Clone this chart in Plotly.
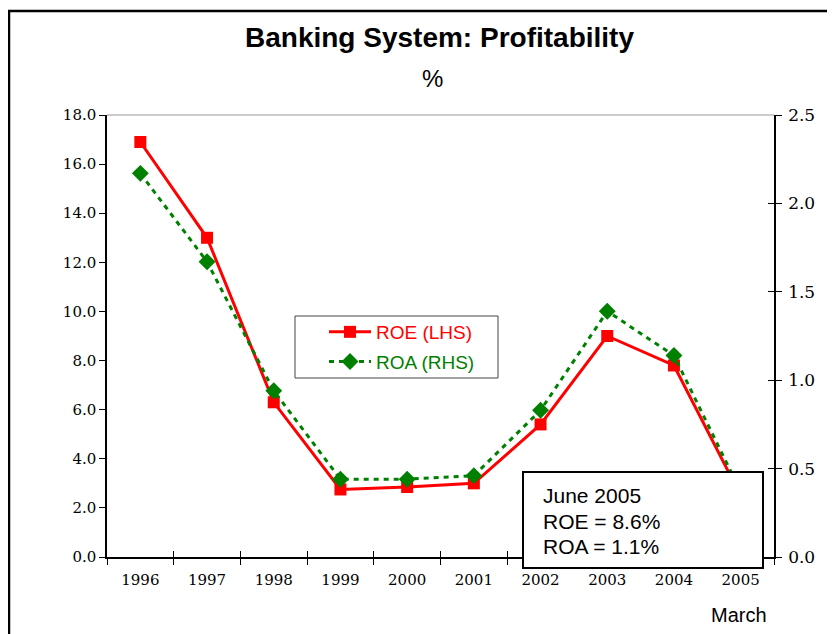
import plotly.graph_objects as go

years = ["1996", "1997", "1998", "1999", "2000", "2001", "2002", "2003", "2004", "2005"]
roe = [16.9, 13.0, 6.3, 2.75, 2.85, 3.0, 5.4, 9.0, 7.8, 2.5]
roa = [2.17, 1.67, 0.94, 0.44, 0.44, 0.46, 0.83, 1.39, 1.14, 0.37]
left_ticks = [0, 2, 4, 6, 8, 10, 12, 14, 16, 18]
right_ticks = [0, 0.5, 1.0, 1.5, 2.0, 2.5]

OFF = 8  # page body margin
W, H = 835 - OFF, 634 - OFF
# plot area in screen coords: x 107..774, y 115..557
L, T = 107 - OFF, 115 - OFF
R = W - (774 - OFF)
B = H - (557 - OFF)
pw, ph = W - L - R, H - T - B


def px(sx):
    return (sx - OFF - L) / pw


def py(sy):
    return (H - B - (sy - OFF)) / ph


fig = go.Figure()
fig.add_trace(go.Scatter(
    x=years, y=roe, name="<span style='color:#ff0000'>ROE (LHS)</span>",
    mode="lines+markers", legendgroup="a",
    line=dict(color="#ff0000", width=3),
    marker=dict(symbol="square", size=12, color="#ff0000"),
    yaxis="y", xaxis="x"))
fig.add_trace(go.Scatter(
    x=years, y=roa, name="<span style='color:#008000'>ROA (RHS)</span>",
    mode="lines+markers", legendgroup="b",
    line=dict(color="#008000", width=3, dash="5px,5px"),
    marker=dict(symbol="diamond", size=13, color="#008000"),
    yaxis="y2", xaxis="x"))
# helper trace to activate overlay axes that draw the crossing tick halves
fig.add_trace(go.Scatter(x=years, y=[None] * len(years), xaxis="x2", yaxis="y3",
                         showlegend=False, hoverinfo="skip"))

xfont = dict(family="DejaVu Serif", size=15, color="black")
lfont = dict(family="DejaVu Serif", size=15, color="black")
rfont = dict(family="DejaVu Serif", size=17, color="black")

fig.update_layout(
    width=W, height=H,
    margin=dict(l=L, r=R, t=T, b=B),
    paper_bgcolor="white", plot_bgcolor="white",
    showlegend=True,
    legend=dict(x=px(324), y=py(313), xanchor="left", yanchor="top",
                borderwidth=0, bgcolor="rgba(0,0,0,0)",
                font=dict(family="Arial", size=19),
                tracegroupgap=2, itemwidth=42, traceorder="grouped"),
    xaxis=dict(type="category", range=[-0.5, 9.5], showline=True, linecolor="black",
               linewidth=1.5, ticks="outside", ticklen=6, tickcolor="black",
               tickson="boundaries", showgrid=False, tickfont=xfont, zeroline=False,
               ticklabelstandoff=8),
    xaxis2=dict(type="category", range=[-0.5, 9.5], overlaying="x", anchor="y",
                ticks="inside", ticklen=6, tickcolor="black", tickson="boundaries",
                showticklabels=False, showgrid=False, showline=False),
    yaxis=dict(range=[0, 18], tickvals=left_ticks,
               ticktext=[f"{v:.1f}" for v in left_ticks],
               showline=True, linecolor="black", linewidth=1.5, ticks="outside",
               ticklen=6, tickcolor="black", showgrid=False, zeroline=False,
               tickfont=lfont),
    yaxis2=dict(range=[0, 2.5], tickvals=right_ticks,
                ticktext=[f"{v:.1f}" for v in right_ticks],
                overlaying="y", side="right", anchor="x",
                showline=True, linecolor="black", linewidth=1.5, ticks="outside",
                ticklen=6, tickcolor="black", showgrid=False, zeroline=False,
                tickfont=rfont, ticklabelstandoff=3),
    yaxis3=dict(range=[0, 2.5], tickvals=right_ticks, overlaying="y", side="right",
                anchor="x", ticks="inside", ticklen=6, tickcolor="black",
                showticklabels=False, showgrid=False, showline=False, zeroline=False),
)

# outer frame and plot top border
fig.add_shape(type="rect", xref="paper", yref="paper",
              x0=px(9), x1=px(860), y0=py(660), y1=py(11),
              line=dict(color="black", width=2.5), fillcolor="rgba(0,0,0,0)", layer="above")
fig.add_shape(type="line", xref="paper", yref="paper",
              x0=0, x1=1, y0=1, y1=1, line=dict(color="#999999", width=1))

# legend border box
fig.add_shape(type="rect", xref="paper", yref="paper",
              x0=px(295), x1=px(498), y0=py(378), y1=py(316),
              line=dict(color="#444444", width=1), fillcolor="white", layer="below")

# info box
fig.add_shape(type="rect", xref="paper", yref="paper",
              x0=px(523), x1=px(763), y0=py(568), y1=py(472),
              line=dict(color="black", width=2), fillcolor="white", layer="above")
for txt, sy in [("June 2005", 495), ("ROE = 8.6%", 521), ("ROA = 1.1%", 546)]:
    fig.add_annotation(xref="paper", yref="paper", x=px(541), y=py(sy),
                       xanchor="left", yanchor="middle", showarrow=False, text=txt,
                       font=dict(family="Arial", size=21, color="black"))

# titles
fig.add_annotation(xref="paper", yref="paper", x=px(439), y=py(38),
                   xanchor="center", yanchor="middle", showarrow=False,
                   text="<b>Banking System: Profitability</b>",
                   font=dict(family="Arial", size=28, color="black"))
fig.add_annotation(xref="paper", yref="paper", x=px(432), y=py(78),
                   xanchor="center", yanchor="middle", showarrow=False,
                   text="%", font=dict(family="Arial", size=24, color="black"))
fig.add_annotation(xref="paper", yref="paper", x=px(739), y=py(615),
                   xanchor="center", yanchor="middle", showarrow=False,
                   text="March", font=dict(family="Arial", size=20, color="black"))

fig.write_html("out.html")
